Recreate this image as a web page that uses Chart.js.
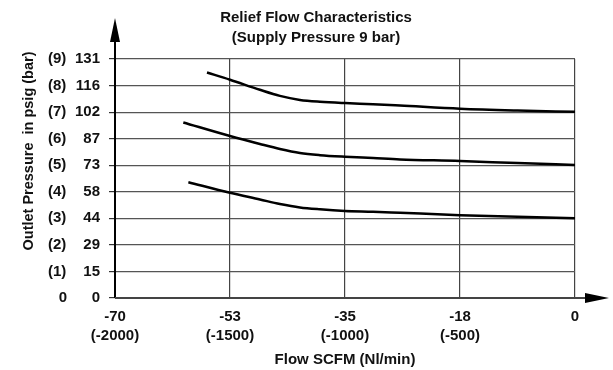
<!DOCTYPE html>
<html>
<head>
<meta charset="utf-8">
<script src="https://cdn.jsdelivr.net/npm/chart.js@4/dist/chart.umd.min.js"></script>
<style>
html,body{margin:0;padding:0;background:#fff;}
#wrap{width:613px;height:370px;position:relative;}
</style>
</head>
<body>
<div id="wrap"><canvas id="c" width="613" height="370"></canvas></div>
<script>
// ---- Data ----
const titleLines = ['Relief Flow Characteristics', '(Supply Pressure 9 bar)'];
const xTitle = 'Flow SCFM (Nl/min)';
const yTitle = 'Outlet Pressure  in psig (bar)';

const flowTicksNl = [-2000, -1500, -1000, -500, 0];
const flowTicksScfm = ['-70', '-53', '-35', '-18', '0'];
const flowTicksNlText = ['(-2000)', '(-1500)', '(-1000)', '(-500)', ''];

const psigLabels = ['0', '15', '29', '44', '58', '73', '87', '102', '116', '131'];
const barLabels = ['0', '(1)', '(2)', '(3)', '(4)', '(5)', '(6)', '(7)', '(8)', '(9)'];

// Curves: flow (Nl/min) and outlet pressure (bar)
const topFlow = [-1600, -1500, -1370, -1283, -1196, -1109, -1000, -878, -761, -500, -250, 0];
const topBar  = [8.49, 8.22, 7.84, 7.61, 7.46, 7.39, 7.34, 7.30, 7.25, 7.13, 7.06, 7.01];
const midFlow = [-1703, -1500, -1370, -1283, -1196, -1109, -1000, -878, -761, -500, -250, 0];
const midBar  = [6.61, 6.10, 5.80, 5.61, 5.46, 5.38, 5.32, 5.27, 5.22, 5.16, 5.08, 5.01];
const lowFlow = [-1681, -1500, -1370, -1283, -1196, -1109, -1000, -878, -761, -500, -250, 0];
const lowBar  = [4.36, 3.96, 3.71, 3.54, 3.41, 3.34, 3.28, 3.25, 3.21, 3.12, 3.06, 3.00];

const toPts = (xs, ys) => xs.map((x, i) => ({x: x, y: ys[i]}));

const FONT = 'Liberation Sans, Arial, Helvetica, sans-serif';
const TXT = '#111';

const decor = {
  id: 'decor',
  afterDraw(chart) {
    const ctx = chart.ctx;
    const xs = chart.scales.x, ys = chart.scales.y;
    const ca = chart.chartArea;
    ctx.save();
    // Y axis with arrow
    const ax = xs.getPixelForValue(-2000);
    const ay0 = ys.getPixelForValue(0);
    ctx.strokeStyle = '#000';
    ctx.lineWidth = 2;
    ctx.beginPath();
    ctx.moveTo(ax, ay0);
    ctx.lineTo(ax, 40);
    ctx.stroke();
    ctx.fillStyle = '#000';
    ctx.beginPath();
    ctx.moveTo(ax, 18);
    ctx.lineTo(ax - 5, 42);
    ctx.lineTo(ax + 5, 42);
    ctx.closePath();
    ctx.fill();
    // X axis with arrow
    ctx.strokeStyle = '#444';
    ctx.beginPath();
    ctx.moveTo(ax, ay0);
    ctx.lineTo(588, ay0);
    ctx.stroke();
    ctx.fillStyle = '#000';
    ctx.beginPath();
    ctx.moveTo(609, ay0);
    ctx.lineTo(585, ay0 - 5);
    ctx.lineTo(585, ay0 + 5);
    ctx.closePath();
    ctx.fill();

    // Titles
    ctx.fillStyle = TXT;
    ctx.font = 'bold 15px ' + FONT;
    ctx.textAlign = 'center';
    ctx.textBaseline = 'middle';
    ctx.fillText(titleLines[0], 316, 18);
    ctx.fillText(titleLines[1], 316, 38);
    ctx.fillText(xTitle, (ca.left + ca.right) / 2, 360);
    // Y title
    ctx.save();
    ctx.font = 'bold 14.5px ' + FONT;
    ctx.translate(29, 151);
    ctx.rotate(-Math.PI / 2);
    ctx.fillText(yTitle, 0, 0);
    ctx.restore();
    // bar labels
    ctx.font = 'bold 15px ' + FONT;
    for (let i = 0; i < barLabels.length; i++) {
      const py = ys.getPixelForValue(i);
      if (i === 0) {
        ctx.textAlign = 'center';
        ctx.fillText(barLabels[i], 63, py);
      } else {
        ctx.textAlign = 'left';
        ctx.fillText(barLabels[i], 48, py);
      }
    }
    ctx.restore();
  }
};

const lineStyle = {
  borderColor: '#000',
  borderWidth: 2.5,
  pointRadius: 0,
  fill: false,
  cubicInterpolationMode: 'monotone'
};

new Chart(document.getElementById('c'), {
  type: 'line',
  data: {
    datasets: [
      Object.assign({label: 'top', data: toPts(topFlow, topBar)}, lineStyle),
      Object.assign({label: 'mid', data: toPts(midFlow, midBar)}, lineStyle),
      Object.assign({label: 'low', data: toPts(lowFlow, lowBar)}, lineStyle)
    ]
  },
  options: {
    responsive: false,
    animation: false,
    devicePixelRatio: 1,
    layout: {padding: {top: 59, right: 38, left: 0, bottom: 0}},
    plugins: {legend: {display: false}, title: {display: false}, tooltip: {enabled: false}},
    scales: {
      x: {
        type: 'linear',
        min: -2000,
        max: 0,
        afterBuildTicks(scale) {
          scale.ticks = flowTicksNl.map(v => ({value: v}));
        },
        afterFit(scale) { scale.height = 72; },
        border: {display: false},
        grid: {
          color: (c) => c.tick && c.tick.value === -2000 ? 'rgba(0,0,0,0)' : '#444',
          lineWidth: 1.2,
          drawTicks: false
        },
        ticks: {
          padding: 9,
          color: TXT,
          maxRotation: 0,
          autoSkip: false,
          font: {family: FONT, size: 15, weight: 'bold', lineHeight: 1.27},
          callback(value) {
            const i = flowTicksNl.indexOf(value);
            if (i < 0) return '';
            return flowTicksNlText[i] ? [flowTicksScfm[i], flowTicksNlText[i]] : flowTicksScfm[i];
          }
        }
      },
      y: {
        type: 'linear',
        min: 0,
        max: 9,
        afterFit(scale) { scale.width = 115; },
        border: {display: false},
        grid: {
          color: (c) => c.tick && c.tick.value === 0 ? 'rgba(0,0,0,0)' : '#555',
          lineWidth: 1.2,
          drawTicks: true,
          tickLength: 6,
          tickColor: '#333'
        },
        ticks: {
          stepSize: 1,
          padding: 9,
          color: TXT,
          autoSkip: false,
          font: {family: FONT, size: 15, weight: 'bold'},
          callback(value) { return psigLabels[value] !== undefined ? psigLabels[value] : ''; }
        }
      }
    }
  },
  plugins: [decor]
});
</script>
</body>
</html>
